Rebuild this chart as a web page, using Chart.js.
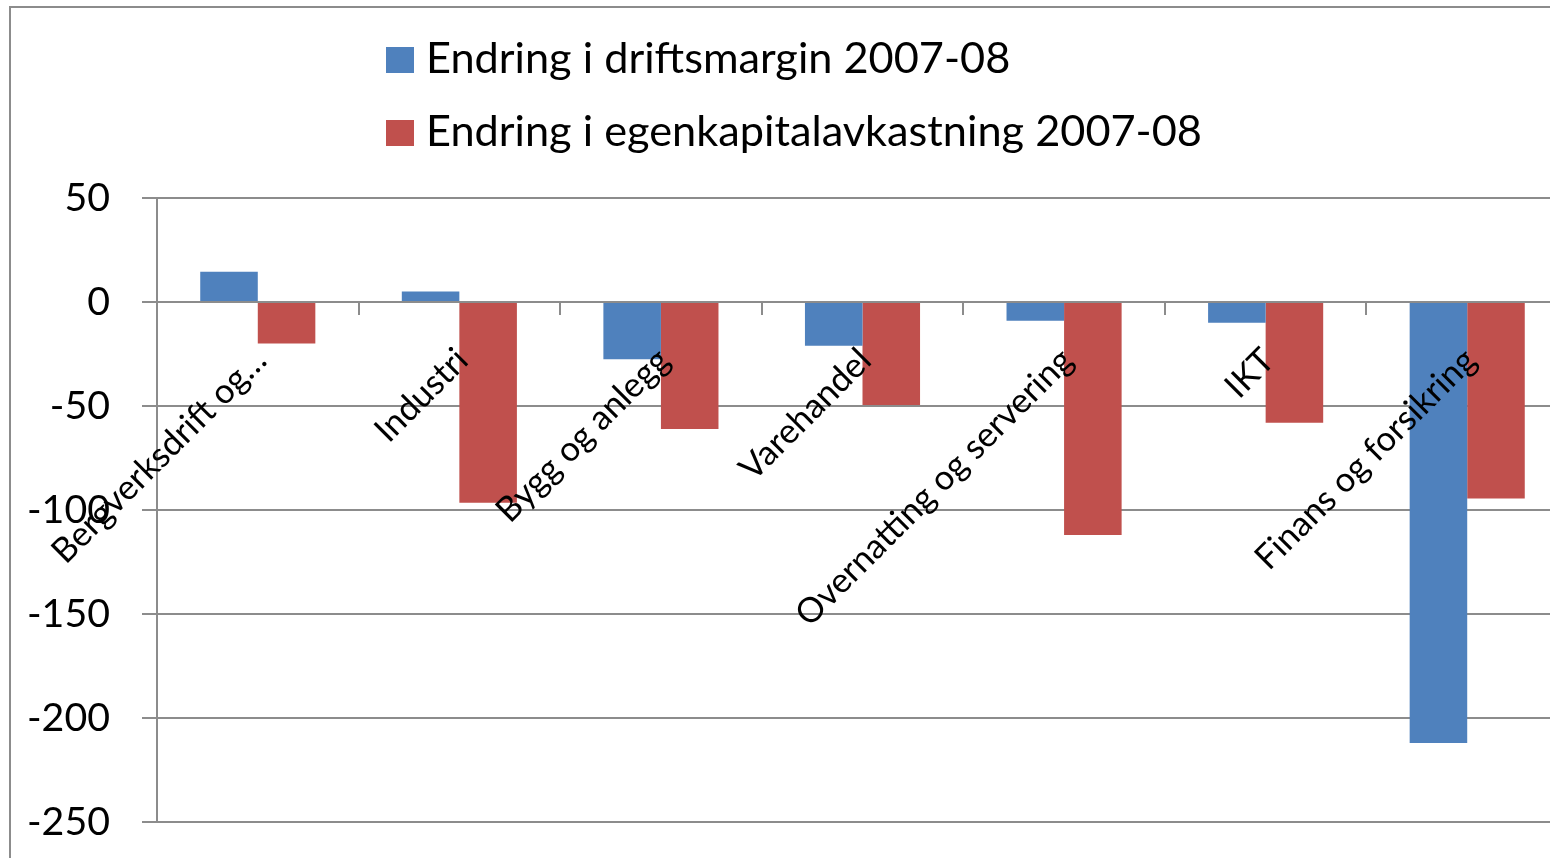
<!DOCTYPE html>
<html>
<head>
<meta charset="utf-8">
<script src="https://cdn.jsdelivr.net/npm/chart.js@4.4.1/dist/chart.umd.min.js"></script>
<style>
  html, body { margin: 0; padding: 0; background: #ffffff; overflow: hidden; }
  #wrap { position: relative; width: 1568px; height: 858px; }
  #frame { position: absolute; left: 9px; top: 6px; width: 1700px; height: 1000px;
           border: 2px solid #8c8c8c; box-sizing: border-box; }
  #c { position: absolute; left: 0; top: 0; }
</style>
</head>
<body>
<div id="wrap">
  <div id="frame"></div>
  <canvas id="c" width="1568" height="858"></canvas>
</div>
<script>
// ---- data ----
const categories = [
  'Bergverksdrift og…',
  'Industri',
  'Bygg og anlegg',
  'Varehandel',
  'Overnatting og servering',
  'IKT',
  'Finans og forsikring'
];
const seriesLabels = [
  'Endring i driftsmargin 2007-08',
  'Endring i egenkapitalavkastning 2007-08'
];
const driftsmargin = [14.5, 5, -27.5, -21, -9, -10, -212];
const egenkapitalavkastning = [-20, -96.5, -61, -49.5, -112, -58, -94.5];
const yTickValues = [50, 0, -50, -100, -150, -200, -250];

// ---- styling ----
const FONT = 'Lato';
const BLUE = '#4F81BD';
const RED = '#C0504D';
const GRID = '#8c8c8c';

function fitSize(text, targetWidth) {
  const c = document.createElement('canvas').getContext('2d');
  c.font = '100px ' + FONT;
  const w = c.measureText(text).width;
  return Math.round(100 * targetWidth / w * 10) / 10;
}
const legendSize = fitSize(seriesLabels[0], 584);
const tickSize = fitSize('-250', 83);
const catSize = fitSize('Overnatting og servering', 376);

const legendPlugin = {
  id: 'stackedLegend',
  afterDraw(chart) {
    const ctx = chart.ctx;
    ctx.save();
    chart.data.datasets.forEach((ds, i) => {
      const top = 47 + i * 73;
      ctx.fillStyle = ds.backgroundColor;
      ctx.fillRect(386, top, 28, 26);
      ctx.fillStyle = '#000000';
      ctx.font = legendSize + 'px ' + FONT;
      ctx.textAlign = 'left';
      ctx.textBaseline = 'alphabetic';
      ctx.fillText(ds.label, 426, top + 26);
    });
    ctx.restore();
  }
};

new Chart(document.getElementById('c'), {
  type: 'bar',
  data: {
    labels: categories,
    datasets: [
      { label: seriesLabels[0], data: driftsmargin, backgroundColor: BLUE, borderWidth: 0 },
      { label: seriesLabels[1], data: egenkapitalavkastning, backgroundColor: RED, borderWidth: 0 }
    ]
  },
  options: {
    responsive: false,
    animation: false,
    devicePixelRatio: 1,
    datasets: { bar: { categoryPercentage: 0.571, barPercentage: 1.0 } },
    layout: { padding: { top: 198, bottom: 36, left: 0, right: 0 } },
    plugins: { legend: { display: false }, tooltip: { enabled: false } },
    scales: {
      x: {
        position: { y: 0 },
        offset: true,
        grid: { display: true, drawOnChartArea: false, drawTicks: true, tickLength: 12,
                color: GRID, lineWidth: 2, offset: true, z: 1 },
        border: { display: true, color: GRID, width: 2, z: 1 },
        ticks: { autoSkip: false, minRotation: 45, maxRotation: 45, padding: 26, labelOffset: 3, z: 1,
                 color: '#000000', font: { family: FONT, size: catSize } },
        afterFit(scale) {
          scale.height = 0;
          scale.paddingLeft = 0; scale.paddingRight = 0;
          scale.paddingTop = 0; scale.paddingBottom = 0;
        }
      },
      y: {
        min: -250,
        max: 50,
        afterBuildTicks(scale) { scale.ticks = yTickValues.map(v => ({ value: v })); },
        grid: { color: GRID, lineWidth: 2, drawTicks: true, tickLength: 15 },
        border: { display: true, color: GRID, width: 2 },
        ticks: { padding: 32, color: '#000000', font: { family: FONT, size: tickSize },
                 callback: v => String(v) },
        afterFit(scale) {
          scale.width = 157;
          scale.paddingTop = 0; scale.paddingBottom = 0;
        }
      }
    }
  },
  plugins: [legendPlugin]
});
</script>
</body>
</html>
